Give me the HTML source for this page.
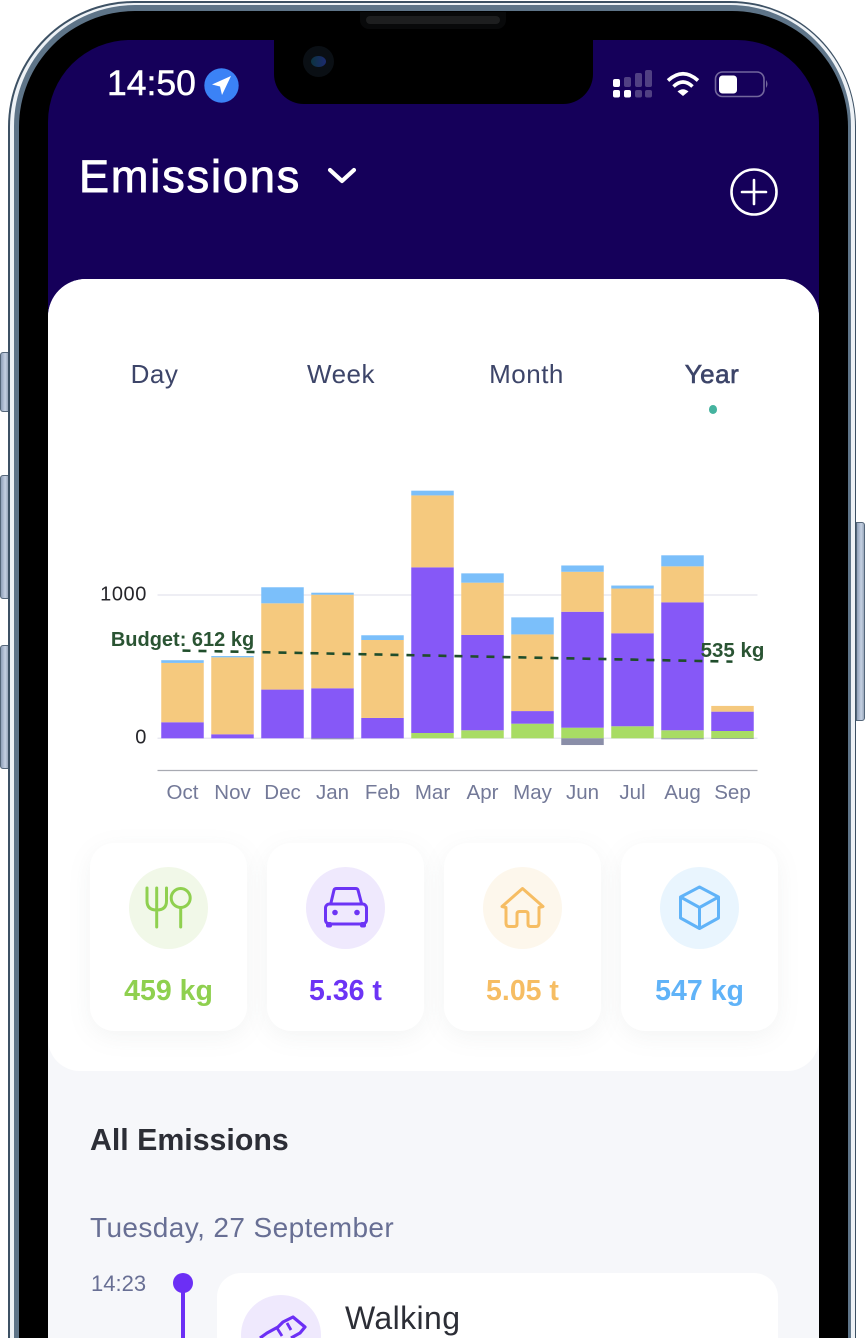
<!DOCTYPE html>
<html lang="en">
<head>
<meta charset="utf-8">
<title>Emissions</title>
<style>
html,body{margin:0;padding:0;width:865px;height:1338px;overflow:hidden;background:#fff;font-family:"Liberation Sans",sans-serif}
#stage{position:relative;width:865px;height:1338px;overflow:hidden;background:#fff}
.abs,.t{position:absolute}
.t{white-space:nowrap;line-height:1}
.btn{position:absolute;background:linear-gradient(90deg,#8fa0b8,#c4d0e2 60%,#9aa8bc);border:1px solid #55677a;box-sizing:border-box}
.card{position:absolute;top:843px;width:157px;height:188px;border-radius:24px;background:#fff;box-shadow:0 6px 24px rgba(120,135,130,.09)}
.circle{position:absolute;left:39px;top:24px;width:79px;height:82px;border-radius:50%}
.card svg{position:absolute;left:39px;top:24px}
.val{position:absolute;left:0;width:157px;top:134px;text-align:center;font-size:28.500px;font-weight:bold;line-height:28px}
.tab{font-size:26px;letter-spacing:.5px;color:#3d4569;top:361px;transform:translateX(-50%)}
</style>
</head>
<body>
<div id="stage">

<div class="btn" style="left:0;top:352px;width:9px;height:60px;border-radius:3px 0 0 3px"></div>
<div class="btn" style="left:0;top:475px;width:9px;height:124px;border-radius:3px 0 0 3px"></div>
<div class="btn" style="left:0;top:645px;width:9px;height:124px;border-radius:3px 0 0 3px"></div>
<div class="btn" style="left:856px;top:522px;width:9px;height:199px;border-radius:0 3px 3px 0"></div>

<div class="abs" style="left:8px;top:1px;width:848px;height:1337px;border-radius:126px 126px 0 0;background:#3d5164">
  <div class="abs" style="left:2px;top:1.500px;right:1px;bottom:0;border-radius:124px 124px 0 0;background:#eef2f6">
    <div class="abs" style="left:3.500px;top:2.500px;right:4px;bottom:0;border-radius:121px 121px 0 0;background:#5e7488">
      <div class="abs" style="left:5.500px;top:5.500px;right:3.500px;bottom:0;border-radius:116px 116px 0 0;background:#000"></div>
    </div>
  </div>
</div>

<div class="abs" style="left:360px;top:12px;width:146px;height:17px;border-radius:0 0 9px 9px;background:#08090a">
  <div class="abs" style="left:6px;top:4px;width:134px;height:8px;border-radius:4px;background:#1d1e1f"></div>
</div>

<div class="abs" style="left:48px;top:40px;width:771px;height:1298px;border-radius:82px 82px 0 0;background:#15005a;overflow:hidden">
  <div class="abs" style="left:0;top:239px;width:771px;height:1059px;background:#f6f7fa;border-radius:38px 38px 0 0"></div>
  <div class="abs" style="left:0;top:239px;width:771px;height:792px;background:#fff;border-radius:38px 38px 32px 32px"></div>
</div>

<div class="abs" style="left:274px;top:36px;width:319px;height:68px;background:#000;border-radius:0 0 30px 30px"></div>
<div class="abs" style="left:303px;top:46px;width:31px;height:31px;border-radius:50%;background:#0a0f14">
  <div class="abs" style="left:8px;top:10px;width:15px;height:11px;border-radius:50%;background:linear-gradient(90deg,#0c3340,#1c2a6e)"></div>
</div>

<div class="t" style="left:107px;top:66px;font-size:35.500px;color:#fff;-webkit-text-stroke:.5px #fff">14:50</div>
<svg class="abs" style="left:204px;top:68px" width="35" height="35" viewBox="0 0 35 35">
  <circle cx="17.500" cy="17.500" r="17.200" fill="#3b82f6"/>
  <path d="M27 8 L8 16.500 L16 18.500 L18 27 Z" fill="#fff"/>
</svg>

<svg class="abs" style="left:610px;top:66px" width="165" height="36" viewBox="610 66 165 36">
  <g fill="#fff">
    <rect x="613" y="79" width="7" height="8" rx="2"/>
    <rect x="613" y="90" width="7" height="7.500" rx="2"/>
    <rect x="624" y="90" width="7" height="7.500" rx="2"/>
    <g opacity=".25">
      <rect x="624" y="77" width="7" height="10" rx="2"/>
      <rect x="635" y="73" width="7" height="14" rx="2"/>
      <rect x="635" y="90" width="7" height="7.500" rx="2"/>
      <rect x="645" y="70" width="7" height="17" rx="2"/>
      <rect x="645" y="90" width="7" height="7.500" rx="2"/>
    </g>
  </g>
  <g fill="none" stroke="#fff" stroke-width="3.600">
    <path d="M668 80.500 Q683 67 698 80.500"/>
    <path d="M673.500 86.500 Q683 77.500 692.500 86.500"/>
    <path d="M683 96 L677.500 91.500 Q683 87 688.500 91.500 Z" fill="#fff" stroke="none"/>
  </g>
  <g>
    <rect x="715.500" y="72" width="48.500" height="24.500" rx="7" fill="none" stroke="#fff" stroke-opacity=".4" stroke-width="1.600"/>
    <rect x="719" y="75.500" width="18" height="18" rx="3.500" fill="#fff"/>
    <path d="M766 80 Q769 84 766 88 Z" fill="#fff" fill-opacity=".4"/>
  </g>
</svg>

<div class="t" style="left:79px;top:154px;font-size:45px;letter-spacing:1.900px;color:#fff;-webkit-text-stroke:.9px #fff">Emissions</div>
<svg class="abs" style="left:326px;top:166px" width="32" height="20" viewBox="0 0 32 20">
  <path d="M4 4 L16 15 L28 4" fill="none" stroke="#fff" stroke-width="4.200" stroke-linecap="round" stroke-linejoin="round"/>
</svg>
<svg class="abs" style="left:729px;top:167px" width="50" height="50" viewBox="0 0 50 50">
  <circle cx="25" cy="25" r="22.500" fill="none" stroke="#fff" stroke-width="2.600"/>
  <path d="M25 13 V37 M13 25 H37" stroke="#fff" stroke-width="2.600" stroke-linecap="round"/>
</svg>

<div class="t tab" style="left:154.500px">Day</div>
<div class="t tab" style="left:341px">Week</div>
<div class="t tab" style="left:526.500px">Month</div>
<div class="t tab" style="left:712px;-webkit-text-stroke:.6px #3d4569">Year</div>
<div class="abs" style="left:708.500px;top:405px;width:8px;height:8.500px;border-radius:50%;background:#45b39f"></div>

<svg id="chart" class="abs" style="left:0;top:0" width="865" height="820" viewBox="0 0 865 820"></svg>

<div class="card" style="left:90px">
  <div class="circle" style="background:#f1f8e8"></div>
  <svg width="79" height="82" viewBox="0 0 79 82">
    <g fill="none" stroke="#8fd04f" stroke-width="3" stroke-linecap="round">
      <path d="M18 21 V34 Q18 43 27.700 43 Q37.500 43 37.500 34 V21 M27.700 21 V60"/>
      <circle cx="51.700" cy="31" r="9.500"/>
      <path d="M51.700 40.500 V60"/>
    </g>
  </svg>
  <div class="val" style="color:#8fd04f">459 kg</div>
</div>
<div class="card" style="left:267px">
  <div class="circle" style="background:#efe9fd"></div>
  <svg width="79" height="82" viewBox="0 0 79 82">
    <g fill="none" stroke="#6c34f5" stroke-width="3" stroke-linejoin="round">
      <path d="M24.700 37 L28 23 Q28.500 21.500 30.500 21.500 H49.500 Q51.500 21.500 52 23 L55.700 37"/>
      <rect x="19.500" y="37" width="41" height="20" rx="4"/>
    </g>
    <g fill="#6c34f5">
      <circle cx="29" cy="45.500" r="2.800"/><circle cx="51" cy="45.500" r="2.800"/>
      <rect x="20" y="55" width="6" height="5.500" rx="2"/><rect x="54" y="55" width="6" height="5.500" rx="2"/>
    </g>
  </svg>
  <div class="val" style="color:#6c34f5">5.36 t</div>
</div>
<div class="card" style="left:444px">
  <div class="circle" style="background:#fdf7ec"></div>
  <svg width="79" height="82" viewBox="0 0 79 82">
    <path d="M19 39.500 L39.500 21.500 L60 39.500 L56 40.500 V56 Q56 59.500 53 59.500 H47.500 Q45 59.500 45 57 V47 Q45 44.500 42.500 44.500 H36.500 Q34 44.500 34 47 V57 Q34 59.500 31.500 59.500 H26 Q23 59.500 23 56 V40.500 Z" fill="none" stroke="#f6bd63" stroke-width="3" stroke-linejoin="round"/>
  </svg>
  <div class="val" style="color:#f6bd63">5.05 t</div>
</div>
<div class="card" style="left:621px">
  <div class="circle" style="background:#e9f5fe"></div>
  <svg width="79" height="82" viewBox="0 0 79 82">
    <g fill="none" stroke="#60b3f8" stroke-width="3" stroke-linejoin="round">
      <path d="M39.500 20 L58.500 30 V51 L39.500 61.500 L20.500 51 V30 Z"/>
      <path d="M20.500 30 L39.500 40.500 L58.500 30 M39.500 40.500 V61.500"/>
    </g>
  </svg>
  <div class="val" style="color:#60b3f8">547 kg</div>
</div>

<div class="t" style="left:90px;top:1126px;font-size:30.300px;font-weight:bold;color:#2c2e36">All Emissions</div>
<div class="t" style="left:90px;top:1214px;font-size:28px;letter-spacing:.4px;color:#686f94">Tuesday, 27 September</div>
<div class="t" style="left:91px;top:1273px;font-size:22px;color:#686f94">14:23</div>
<div class="abs" style="left:173px;top:1273px;width:20px;height:20px;border-radius:50%;background:#6c2ff5"></div>
<div class="abs" style="left:181px;top:1285px;width:4px;height:53px;background:#6c2ff5"></div>
<div class="abs" style="left:217px;top:1273px;width:561px;height:65px;border-radius:24px 24px 0 0;background:#fff"></div>
<svg class="abs" style="left:241px;top:1295px" width="80" height="43" viewBox="0 0 80 43">
  <circle cx="40" cy="40" r="40" fill="#efe9fd"/>
  <path d="M19 43 L26 38 L37 32 L42 27 L52 22 L64 32 L59 38 L50 43" fill="none" stroke="#6c2ff5" stroke-width="3.200" stroke-linejoin="round"/>
  <path d="M36 33 L41 41 M46 28 L50 35" stroke="#6c2ff5" stroke-width="2.800"/>
</svg>
<div class="t" style="left:345px;top:1302px;font-size:32px;letter-spacing:.4px;color:#2c2e36">Walking</div>

</div>
<script>
const categories = ['Oct','Nov','Dec','Jan','Feb','Mar','Apr','May','Jun','Jul','Aug','Sep'];
const foodValues = [0,0,0,0,0,37,56,102,74,84,56,51];
const transportValues = [112,28,340,349,142,1156,665,88,809,649,893,135];
const homeValues = [414,537,602,653,544,502,365,535,279,312,251,40];
const goodsValues = [19,9,112,14,33,33,65,119,44,21,77,0];
const offsetValues = [0,0,0,-7,0,0,0,0,-47,0,-7,-5];
const yTicks = [0,1000];
const yTickLabels = ['0','1000'];
const budgetValues = [612,535];
const budgetLabels = ['Budget: 612 kg','535 kg'];

const NS = 'http://www.w3.org/2000/svg';
const svg = document.getElementById('chart');
const plotLeft = 157.5, plotRight = 757.5, bandStep = 50, barWidth = 42.5;
const zeroY = 738.3, pxPerUnit = 0.1433;
function xCenter(i){ return plotLeft + bandStep * (i + 0.5); }
function yScale(v){ return zeroY - v * pxPerUnit; }
function make(tag, attrs, parent){
  const el = document.createElementNS(NS, tag);
  for (const k in attrs) el.setAttribute(k, attrs[k]);
  (parent || svg).appendChild(el);
  return el;
}

yTicks.forEach(function(t, i){
  const line = make('line', {x1:plotLeft, x2:plotRight, y1:yScale(t), y2:yScale(t), stroke:'#e9e9f1', 'stroke-width':1.5});
  
  
  const label = make('text', {x:147, y:yScale(t) + 5.3, 'text-anchor':'end', 'font-size':20, 'letter-spacing':0.6, fill:'#26262b', 'font-family':'"Liberation Sans",sans-serif'});
  label.textContent = yTickLabels[i];
  
  
});

const xAxis = make('line', {x1:plotLeft, x2:plotRight, y1:770.5, y2:770.5, stroke:'#a8aab2', 'stroke-width':1.2});



const stackSeries = [
  {values:foodValues, color:'#a8dc64'},
  {values:transportValues, color:'#8658f7'},
  {values:homeValues, color:'#f5c97e'},
  {values:goodsValues, color:'#7bbffa'}
];

categories.forEach(function(cat, i){
  const x = xCenter(i) - barWidth / 2;
  let base = 0;
  stackSeries.forEach(function(s){
    const v = s.values[i];
    if (v > 0) {
      const r = make('rect', {x:x, y:yScale(base + v), width:barWidth, height:v * pxPerUnit, fill:s.color});
      
      
    }
    base += v;
  });
  const neg = offsetValues[i];
  if (neg < 0) {
    const r = make('rect', {x:x, y:yScale(0), width:barWidth, height:-neg * pxPerUnit, fill:'#8a8ea8'});
    
    
  }
  const label = make('text', {x:xCenter(i), y:799, 'text-anchor':'middle', 'font-size':20.5, fill:'#737998', 'font-family':'"Liberation Sans",sans-serif'});
  label.textContent = cat;
  
  
});

const lastIndex = categories.length - 1;
const budgetLine = make('line', {x1:xCenter(0), x2:xCenter(lastIndex), y1:yScale(budgetValues[0]), y2:yScale(budgetValues[1]), stroke:'#1f4d2b', 'stroke-width':2.6, 'stroke-dasharray':'8 8'});



const budgetStartLabel = make('text', {x:xCenter(0), y:yScale(budgetValues[0]) - 4.5, 'text-anchor':'middle', 'font-size':20, 'font-weight':'bold', fill:'#2a5433', 'font-family':'"Liberation Sans",sans-serif'});
budgetStartLabel.textContent = budgetLabels[0];



const budgetEndLabel = make('text', {x:xCenter(lastIndex), y:yScale(budgetValues[1]) - 4.5, 'text-anchor':'middle', 'font-size':20.5, 'font-weight':'bold', fill:'#2a5433', 'font-family':'"Liberation Sans",sans-serif'});
budgetEndLabel.textContent = budgetLabels[1];


</script>
</body>
</html>
